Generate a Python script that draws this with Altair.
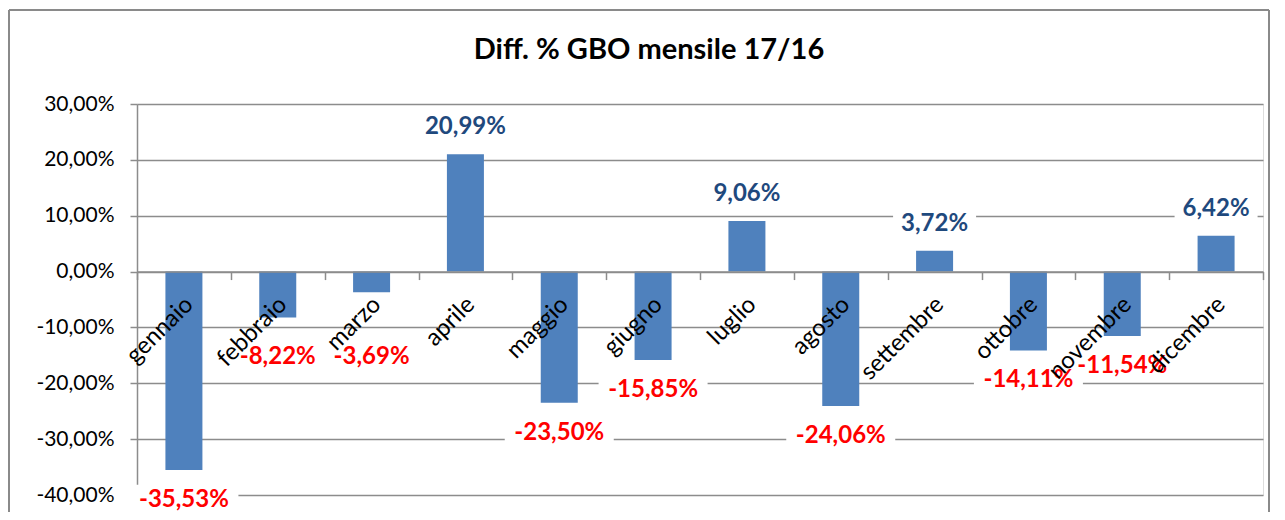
import altair as alt
import pandas as pd

months = ["gennaio", "febbraio", "marzo", "aprile", "maggio", "giugno",
          "luglio", "agosto", "settembre", "ottobre", "novembre", "dicembre"]
diff_pct = [-35.53, -8.22, -3.69, 20.99, -23.50, -15.85,
            9.06, -24.06, 3.72, -14.11, -11.54, 6.42]
y_ticks = [-40, -30, -20, -10, 0, 10, 20, 30]
title_text = "Diff. % GBO mensile 17/16"

df = pd.DataFrame({"mese": months, "diff": diff_pct})
df["label"] = [("%.2f%%" % v).replace(".", ",") for v in diff_pct]

W, H = 1126, 391
FONT = "Lato"
GRID = "#8C8C8C"
Y_DOMAIN = [-40, 30]
axis_offset = -H * (0 - Y_DOMAIN[0]) / (Y_DOMAIN[1] - Y_DOMAIN[0])

x_enc = alt.X("mese:N", sort=months,
              scale=alt.Scale(paddingInner=0, paddingOuter=0),
              axis=alt.Axis(title=None, orient="bottom", offset=axis_offset,
                            tickBand="extent", tickSize=8, tickColor=GRID, tickWidth=1.5,
                            domainColor=GRID, domainWidth=1.5,
                            labelAngle=315, labelAlign="right", labelBaseline="middle",
                            labelPadding=21, labelOffset=5,
                            labelFont=FONT, labelFontSize=24, labelColor="#000000",
                            labelOverlap=False, labelBound=False, labelFlush=False,
                            grid=False, zindex=1))

y_scale = alt.Scale(domain=Y_DOMAIN, nice=False, zero=False)
y_axis = alt.Axis(title=None, values=y_ticks,
                  labelExpr="replace(replace(format(datum.value, '.2f'), '.', ','), '\u2212', '-') + '%'",
                  labelFont=FONT, labelFontSize=21, labelColor="#000000", labelPadding=16,
                  tickSize=7, tickColor=GRID, tickWidth=1.5,
                  domainColor=GRID, domainWidth=1.5,
                  grid=True, gridColor=GRID, gridWidth=1.5, zindex=0)

base = alt.Chart(df)

bars = base.mark_bar(size=37, color="#4F81BD").encode(
    x=x_enc,
    y=alt.Y("diff:Q", scale=y_scale, axis=y_axis),
)

pos = base.transform_filter("datum.diff >= 0")
neg = base.transform_filter("datum.diff < 0").transform_calculate(
    lpos="min(datum.diff, -10)")

box_shape = "M-1,-0.28L1,-0.28L1,0.28L-1,0.28Z"
size_expr = "pow(13 * length(datum.label) + 18, 2)"

pos_box = pos.transform_calculate(bsize=size_expr).mark_point(
    shape=box_shape, filled=True, color="white", opacity=1, strokeWidth=0, yOffset=-27
).encode(x=alt.X("mese:N", sort=months), y=alt.Y("diff:Q", scale=y_scale),
         size=alt.Size("bsize:Q", scale=None, legend=None))

neg_box = neg.transform_calculate(bsize=size_expr).mark_point(
    shape=box_shape, filled=True, color="white", opacity=1, strokeWidth=0, yOffset=30
).encode(x=alt.X("mese:N", sort=months), y=alt.Y("lpos:Q", scale=y_scale),
         size=alt.Size("bsize:Q", scale=None, legend=None))

pos_text = pos.mark_text(font=FONT, fontSize=24, fontWeight="bold", color="#1F497D",
                         baseline="middle", align="center", yOffset=-27).encode(
    x=alt.X("mese:N", sort=months), y=alt.Y("diff:Q", scale=y_scale), text="label:N")

neg_text = neg.mark_text(font=FONT, fontSize=24, fontWeight="bold", color="#FF0000",
                         baseline="middle", align="center", yOffset=30).encode(
    x=alt.X("mese:N", sort=months), y=alt.Y("lpos:Q", scale=y_scale), text="label:N")

title_mark = alt.Chart(pd.DataFrame({"t": [title_text]})).mark_text(
    font=FONT, fontSize=29, fontWeight="bold", color="#000000",
    align="center", baseline="middle").encode(
    x=alt.value(512), y=alt.value(-54), text="t:N")

frame_top = alt.Chart(df).mark_rule(color="#8A8A8A", strokeWidth=2).encode(
    x=alt.value(-128), x2=alt.value(1132), y=alt.value(-94))
frame_left = alt.Chart(df).mark_rule(color="#8A8A8A", strokeWidth=2).encode(
    x=alt.value(-128), y=alt.value(-94), y2=alt.value(420))
frame_right = alt.Chart(df).mark_rule(color="#8A8A8A", strokeWidth=2).encode(
    x=alt.value(1132), y=alt.value(-94), y2=alt.value(420))

chart = alt.layer(bars, pos_box, neg_box, pos_text, neg_text, title_mark,
                  frame_top, frame_left, frame_right).properties(
    width=W, height=H,
    autosize=alt.AutoSizeParams(type="none"),
    padding={"left": 129, "top": 96, "right": 7, "bottom": 17},
).configure_view(stroke=None).configure(background="white")

chart.save("out.html", embed_options={"renderer": "svg", "actions": False})
